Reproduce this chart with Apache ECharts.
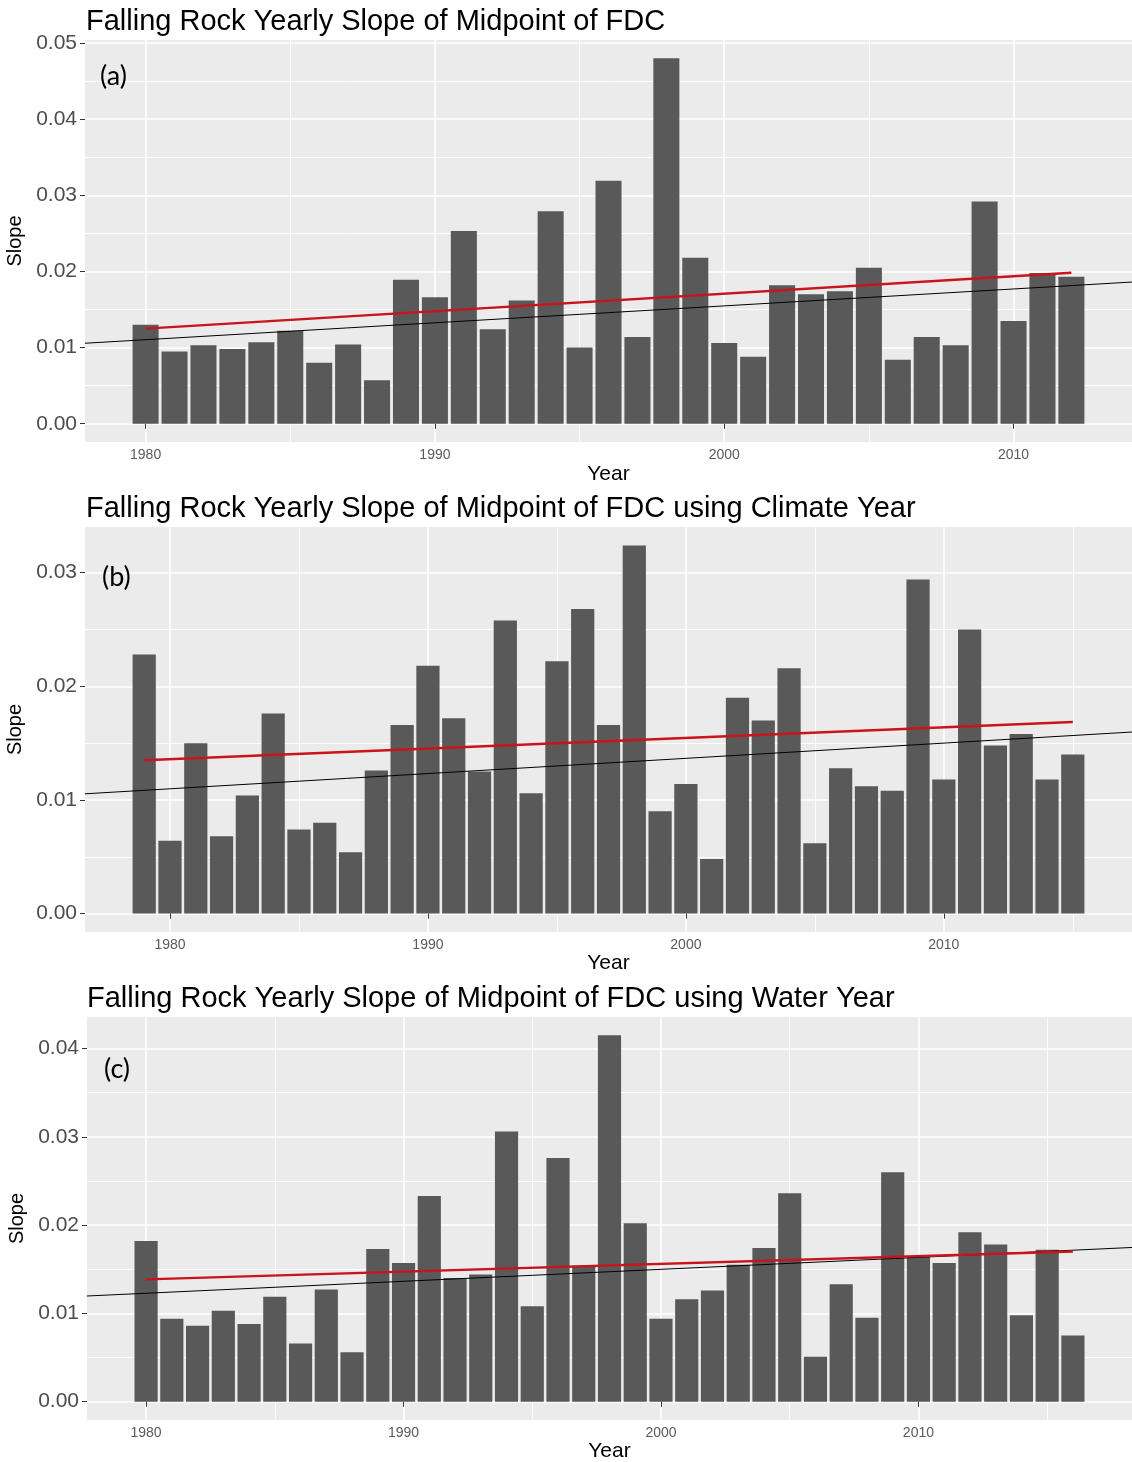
<!DOCTYPE html>
<html>
<head>
<meta charset="utf-8">
<title>Falling Rock Yearly Slope of Midpoint of FDC</title>
<script src="https://cdn.jsdelivr.net/npm/echarts@6/dist/echarts.min.js"></script>
<style>
  html, body { margin: 0; padding: 0; background: #ffffff; }
  #chart { width: 1132px; height: 1462px; }
</style>
</head>
<body>
<div id="chart"></div>
<script>
// (a) calendar year
const yearsA = [1980, 1981, 1982, 1983, 1984, 1985, 1986, 1987, 1988, 1989,
                1990, 1991, 1992, 1993, 1994, 1995, 1996, 1997, 1998, 1999,
                2000, 2001, 2002, 2003, 2004, 2005, 2006, 2007, 2008, 2009,
                2010, 2011, 2012];
const slopeA = [0.0130, 0.0095, 0.0103, 0.0098, 0.0107, 0.0122, 0.0080, 0.0104, 0.0057, 0.0189,
                0.0166, 0.0253, 0.0124, 0.0162, 0.0279, 0.0100, 0.0319, 0.0114, 0.0480, 0.0218,
                0.0106, 0.0088, 0.0182, 0.0170, 0.0174, 0.0205, 0.0084, 0.0114, 0.0103, 0.0292,
                0.0135, 0.0198, 0.0193];

// (b) climate year
const yearsB = [1979, 1980, 1981, 1982, 1983, 1984, 1985, 1986, 1987, 1988,
                1989, 1990, 1991, 1992, 1993, 1994, 1995, 1996, 1997, 1998,
                1999, 2000, 2001, 2002, 2003, 2004, 2005, 2006, 2007, 2008,
                2009, 2010, 2011, 2012, 2013, 2014, 2015];
const slopeB = [0.0228, 0.0064, 0.0150, 0.0068, 0.0104, 0.0176, 0.0074, 0.0080, 0.0054, 0.0126,
                0.0166, 0.0218, 0.0172, 0.0125, 0.0258, 0.0106, 0.0222, 0.0268, 0.0166, 0.0324,
                0.0090, 0.0114, 0.0048, 0.0190, 0.0170, 0.0216, 0.0062, 0.0128, 0.0112, 0.0108,
                0.0294, 0.0118, 0.0250, 0.0148, 0.0158, 0.0118, 0.0140];

// (c) water year
const yearsC = [1980, 1981, 1982, 1983, 1984, 1985, 1986, 1987, 1988, 1989,
                1990, 1991, 1992, 1993, 1994, 1995, 1996, 1997, 1998, 1999,
                2000, 2001, 2002, 2003, 2004, 2005, 2006, 2007, 2008, 2009,
                2010, 2011, 2012, 2013, 2014, 2015, 2016];
const slopeC = [0.0182, 0.0094, 0.0086, 0.0103, 0.0088, 0.0119, 0.0066, 0.0127, 0.0056, 0.0173,
                0.0157, 0.0233, 0.0140, 0.0144, 0.0306, 0.0108, 0.0276, 0.0154, 0.0415, 0.0202,
                0.0094, 0.0116, 0.0126, 0.0155, 0.0174, 0.0236, 0.0051, 0.0133, 0.0095, 0.0260,
                0.0165, 0.0157, 0.0192, 0.0178, 0.0098, 0.0172, 0.0075];

// Linear fit over each record (red) and full-width trend line (black): end points
const fitA = [[1980, 0.01249], [2012, 0.01983]];
const refA = [[1977.9, 0.01057], [2014.1, 0.01861]];
const fitB = [[1979, 0.01350], [2015, 0.01686]];
const refB = [[1976.7, 0.01054], [2017.3, 0.01598]];
const fitC = [[1980, 0.01386], [2016, 0.01702]];
const refC = [[1977.7, 0.01197], [2018.3, 0.01747]];

// Axis breaks
const yearTicks = [1980, 1990, 2000, 2010];
const yearMinorTicks = [1975, 1985, 1995, 2005, 2015];
const slopeTicksA = [0, 0.01, 0.02, 0.03, 0.04, 0.05];
const slopeMinorA = [0.005, 0.015, 0.025, 0.035, 0.045];
const slopeTicksB = [0, 0.01, 0.02, 0.03];
const slopeMinorB = [0.005, 0.015, 0.025];
const slopeTicksC = [0, 0.01, 0.02, 0.03, 0.04];
const slopeMinorC = [0.005, 0.015, 0.025, 0.035];

const titles = [
  'Falling Rock Yearly Slope of Midpoint of FDC',
  'Falling Rock Yearly Slope of Midpoint of FDC using Climate Year',
  'Falling Rock Yearly Slope of Midpoint of FDC using Water Year'
];
const tags = ['(a)', '(b)', '(c)'];

const SANS = 'Liberation Sans, Arial, sans-serif';

// ggplot-style 5% padding around the bars
function xRange(years) {
  const lo = years[0] - 0.45, hi = years[years.length - 1] + 0.45;
  const pad = 0.05 * (hi - lo);
  return [lo - pad, hi + pad];
}
function yRange(values) {
  const hi = Math.max.apply(null, values);
  return [-0.05 * hi, 1.05 * hi];
}

const panels = [
  { years: yearsA, values: slopeA, fit: fitA, ref: refA, yt: slopeTicksA, ym: slopeMinorA,
    grid: { left: 85, top: 40, height: 402 }, yearGap: 22 },
  { years: yearsB, values: slopeB, fit: fitB, ref: refB, yt: slopeTicksB, ym: slopeMinorB,
    grid: { left: 85, top: 527, height: 405 }, yearGap: 21 },
  { years: yearsC, values: slopeC, fit: fitC, ref: refC, yt: slopeTicksC, ym: slopeMinorC,
    grid: { left: 87, top: 1017, height: 403 }, yearGap: 21 }
];

const grid = [], xAxis = [], yAxis = [], series = [];

panels.forEach(function (p, i) {
  const xr = xRange(p.years), yr = yRange(p.values);
  grid.push({ left: p.grid.left, right: 0, top: p.grid.top, height: p.grid.height,
              backgroundColor: '#EBEBEB', show: true, borderWidth: 0,
              outerBoundsMode: 'none' });

  // major x breaks with labels
  xAxis.push({
    type: 'value', gridIndex: i, min: xr[0], max: xr[1], position: 'bottom',
    name: 'Year', nameLocation: 'middle', nameGap: p.yearGap,
    nameTextStyle: { fontFamily: SANS, fontSize: 21, color: '#000000' },
    axisLine: { show: false },
    axisTick: { show: true, length: 5, customValues: yearTicks,
                lineStyle: { color: '#333333', width: 1 } },
    axisLabel: { show: true, customValues: yearTicks, margin: 6,
                 fontFamily: SANS, fontSize: 14, color: '#5a5a5a',
                 formatter: function (v) { return String(v); } },
    splitLine: { show: true, lineStyle: { color: '#ffffff', width: 1.5 } }
  });
  // minor x grid lines
  xAxis.push({
    type: 'value', gridIndex: i, min: xr[0], max: xr[1], position: 'top',
    axisLine: { show: false },
    axisTick: { show: false, customValues: yearMinorTicks },
    axisLabel: { show: false, customValues: yearMinorTicks },
    splitLine: { show: true, lineStyle: { color: '#ffffff', width: 0.9 } }
  });

  // major y breaks with labels
  yAxis.push({
    type: 'value', gridIndex: i, min: yr[0], max: yr[1], position: 'left',
    name: 'Slope', nameLocation: 'middle', nameGap: 56, nameRotate: 90,
    nameTextStyle: { fontFamily: SANS, fontSize: 20, color: '#000000' },
    axisLine: { show: false },
    axisTick: { show: true, length: 5, customValues: p.yt,
                lineStyle: { color: '#333333', width: 1 } },
    axisLabel: { show: true, customValues: p.yt, margin: 8,
                 fontFamily: SANS, fontSize: 21, color: '#4d4d4d',
                 formatter: function (v) { return v.toFixed(2); } },
    splitLine: { show: true, lineStyle: { color: '#ffffff', width: 1.5 } }
  });
  // minor y grid lines
  yAxis.push({
    type: 'value', gridIndex: i, min: yr[0], max: yr[1], position: 'right',
    axisLine: { show: false },
    axisTick: { show: false, customValues: p.ym },
    axisLabel: { show: false, customValues: p.ym },
    splitLine: { show: true, lineStyle: { color: '#ffffff', width: 0.9 } }
  });

  const xi = 2 * i, yi = 2 * i;
  series.push({
    type: 'bar', xAxisIndex: xi, yAxisIndex: yi,
    data: p.years.map(function (y, k) { return [y, p.values[k]]; }),
    barWidth: '90%', itemStyle: { color: '#595959' }, z: 2
  });
  series.push({
    type: 'line', xAxisIndex: xi, yAxisIndex: yi, data: p.ref,
    symbol: 'none', lineStyle: { color: '#000000', width: 1 }, z: 3
  });
  series.push({
    type: 'line', xAxisIndex: xi, yAxisIndex: yi, data: p.fit,
    symbol: 'none', lineStyle: { color: '#c8141a', width: 2.4 }, z: 4
  });
});

const title = [
  { text: titles[0], left: 86, top: 7 },
  { text: titles[1], left: 86, top: 494 },
  { text: titles[2], left: 87, top: 984 }
].map(function (t) {
  t.padding = 0;
  t.textStyle = { fontFamily: SANS, fontSize: 29, fontWeight: 'normal', color: '#000000' };
  return t;
}).concat([
  { text: tags[0], left: 100, top: 63 },
  { text: tags[1], left: 102, top: 564 },
  { text: tags[2], left: 104, top: 1056 }
].map(function (t) {
  t.padding = 0;
  t.textStyle = { fontFamily: 'Lato, Open Sans, sans-serif', fontSize: 27, fontWeight: 'normal', color: '#000000' };
  return t;
}));

const chart = echarts.init(document.getElementById('chart'), null, { renderer: 'canvas' });
chart.setOption({
  animation: false,
  backgroundColor: '#ffffff',
  title: title,
  grid: grid,
  xAxis: xAxis,
  yAxis: yAxis,
  series: series
});
</script>
</body>
</html>
